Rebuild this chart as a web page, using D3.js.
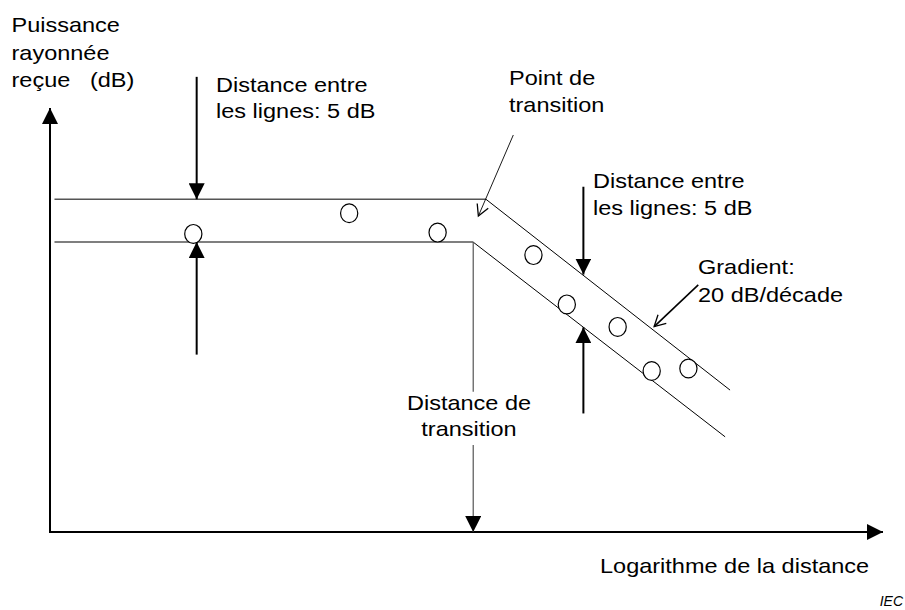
<!DOCTYPE html>
<html>
<head>
<meta charset="utf-8">
<script src="https://cdn.jsdelivr.net/npm/d3@7"></script>
<style>
  body { margin: 0; background: #fff; }
  svg { display: block; font-family: "Liberation Sans", Arial, sans-serif; }
</style>
</head>
<body>
<div id="chart"></div>
<script>
// Axis domains: x = log10(distance) in decades, y = received power in dB
const xDomain = [0, 3.72];
const yDomain = [0, 49];

// The two limit lines of the 5 dB band (flat part, then 20 dB/decade)
const upperLine = [[0.02, 38.45], [1.947, 38.45], [3.037, 16.4]];
const lowerLine = [[0.02, 33.5], [1.89, 33.5], [3.015, 11.0]];

// Measured points (log distance, dB)
const measuredX = [0.64, 1.336, 1.731, 2.159, 2.308, 2.535, 2.687, 2.851];
const measuredY = [34.45, 36.83, 34.6, 32.0, 26.3, 23.7, 18.6, 18.9];

// Annotation arrows: [from, to] in data units
const spacingArrows = [
    [[0.655, 52.6], [0.655, 38.45]],
    [[0.655, 20.5], [0.655, 33.5]],
    [[2.382, 39.9], [2.382, 29.75]],
    [[2.382, 13.7], [2.382, 23.66]]
];
const transitionX = 1.89;
const transitionGap = [16.2, 10.05];   // dB range hidden behind the label
const gradientArrow = [[2.895, 28.55], [2.698, 23.73]];
const pointArrow = [[2.069, 45.88], [1.913, 36.52]];

// Texts
const yTitle = ["Puissance", "rayonnée", "reçue   (dB)"];
const xTitle = "Logarithme de la distance";
const spacingLabel = ["Distance entre", "les lignes: 5 dB"];
const pointLabel = ["Point de", "transition"];
const distanceLabel = ["Distance de", "transition"];
const gradientLabel = ["Gradient:", "20 dB/décade"];
const sourceLabel = "IEC";

const width = 905, height = 610;

const svg = d3.select("#chart").append("svg")
    .attr("width", width)
    .attr("height", height);

const x = d3.scaleLinear().domain(xDomain).range([50, 883]);
const y = d3.scaleLinear().domain(yDomain).range([532, 108]);

// Arrow heads
const defs = svg.append("defs");
defs.append("marker")
    .attr("id", "head")
    .attr("markerUnits", "userSpaceOnUse")
    .attr("viewBox", "0 -8 16 16")
    .attr("refX", 16).attr("refY", 0)
    .attr("markerWidth", 16).attr("markerHeight", 16)
    .attr("orient", "auto")
    .append("path")
    .attr("d", "M0,-8L16,0L0,8Z")
    .attr("fill", "#000");
defs.append("marker")
    .attr("id", "open")
    .attr("markerUnits", "userSpaceOnUse")
    .attr("viewBox", "-12 -7 14 14")
    .attr("refX", 0).attr("refY", 0)
    .attr("markerWidth", 14).attr("markerHeight", 14)
    .attr("orient", "auto")
    .append("path")
    .attr("d", "M-11,-6L0,0L-11,6")
    .attr("fill", "none")
    .attr("stroke", "#000")
    .attr("stroke-width", 1.3);

// Axes
svg.append("line")
    .attr("x1", x.range()[0]).attr("y1", y.range()[0])
    .attr("x2", x.range()[0]).attr("y2", y.range()[1])
    .attr("stroke", "#000").attr("stroke-width", 2)
    .attr("marker-end", "url(#head)");
svg.append("line")
    .attr("x1", x.range()[0] - 1).attr("y1", y.range()[0])
    .attr("x2", x.range()[1]).attr("y2", y.range()[0])
    .attr("stroke", "#000").attr("stroke-width", 2)
    .attr("marker-end", "url(#head)");

// Band lines: flat part grey, slope part thin black
const line = d3.line().x(d => x(d[0])).y(d => y(d[1]));
[upperLine, lowerLine].forEach(pts => {
    svg.append("path")
        .attr("d", line(pts.slice(0, 2)))
        .attr("fill", "none").attr("stroke", "#555").attr("stroke-width", 1.5);
    svg.append("path")
        .attr("d", line(pts.slice(1)))
        .attr("fill", "none").attr("stroke", "#000").attr("stroke-width", 1);
});

// Transition distance line
svg.append("line")
    .attr("x1", x(transitionX)).attr("y1", y(lowerLine[1][1]))
    .attr("x2", x(transitionX)).attr("y2", y(transitionGap[0]))
    .attr("stroke", "#555").attr("stroke-width", 1.2);
svg.append("line")
    .attr("x1", x(transitionX)).attr("y1", y(transitionGap[1]))
    .attr("x2", x(transitionX)).attr("y2", y(0))
    .attr("stroke", "#555").attr("stroke-width", 1.2)
    .attr("marker-end", "url(#head)");

// Measured points
svg.selectAll(".pt")
    .data(measuredX.map((v, i) => [v, measuredY[i]]))
    .enter().append("ellipse")
    .attr("class", "pt")
    .attr("cx", d => x(d[0]))
    .attr("cy", d => y(d[1]))
    .attr("rx", 8.6).attr("ry", 9.4)
    .attr("fill", "#fff")
    .attr("stroke", "#000").attr("stroke-width", 1.2);

// Spacing arrows
svg.selectAll(".sp")
    .data(spacingArrows)
    .enter().append("path")
    .attr("class", "sp")
    .attr("d", d => line(d))
    .attr("stroke", "#000").attr("stroke-width", 2)
    .attr("marker-end", "url(#head)");

svg.append("path")
    .attr("d", line(gradientArrow))
    .attr("stroke", "#000").attr("stroke-width", 1.6)
    .attr("marker-end", "url(#open)");
svg.append("path")
    .attr("d", line(pointArrow))
    .attr("stroke", "#000").attr("stroke-width", 0.9)
    .attr("marker-end", "url(#open)");

// Labels (the source font is a little wider than Arial)
function label(lines, px, py, step, anchor = "start", size = 21) {
    lines.forEach((t, i) => {
        svg.append("text")
            .attr("transform", `translate(${px},${py + i * step}) scale(1.12,1)`)
            .attr("text-anchor", anchor)
            .attr("font-size", size)
            .attr("fill", "#000")
            .style("white-space", "pre")
            .text(t);
    });
}

label(yTitle, 11.5, 32.3, 27.5);
label(spacingLabel, 216, 91.7, 26.5);
label(pointLabel, 509, 85, 26.7);
label(spacingLabel, 593, 188.3, 26.7);
label(gradientLabel, 698, 274.3, 27.4);
label(distanceLabel, 469, 410, 25.5, "middle");
label([xTitle], 600, 573, 0);

svg.append("text")
    .attr("x", 903).attr("y", 606)
    .attr("text-anchor", "end")
    .attr("font-size", 14)
    .attr("font-style", "italic")
    .text(sourceLabel);
</script>
</body>
</html>
